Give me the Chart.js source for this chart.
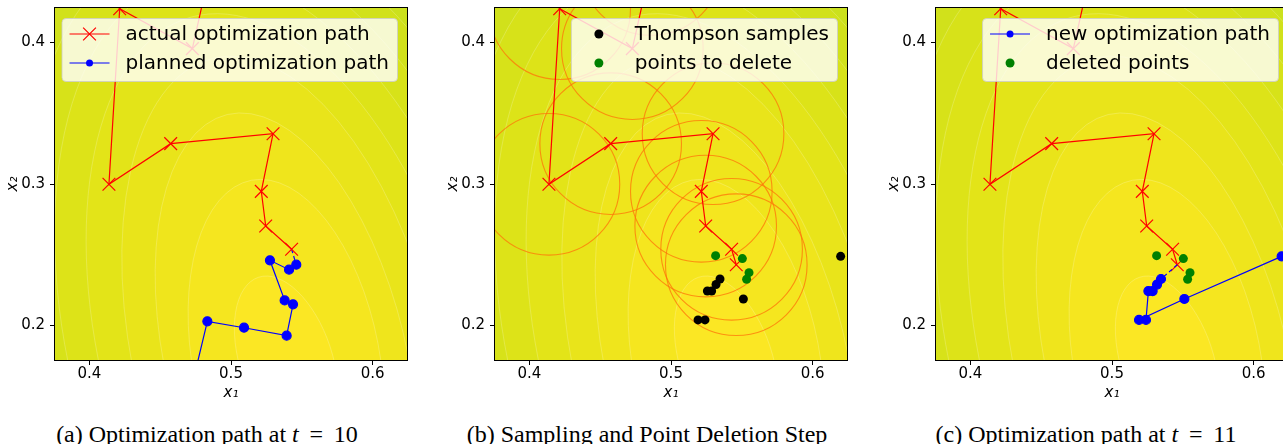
<!DOCTYPE html>
<html>
<head>
<meta charset="utf-8">
<script src="https://cdn.jsdelivr.net/npm/chart.js@4.4.0/dist/chart.umd.min.js"></script>
<style>
  html, body { margin: 0; padding: 0; background: #fff; }
  body { width: 1283px; height: 444px; overflow: hidden; position: relative; }
  canvas { position: absolute; top: 0; }
  .cap { position: absolute; top: 422px; width: 440px; text-align: center;
         font-family: 'Liberation Serif', 'Times New Roman', serif; font-size: 24px; line-height: 24px; color: #000; white-space: nowrap; }
  .eq { margin: 0 0.45em; }
</style>
</head>
<body>
<canvas id="chartA" width="430" height="405" style="left:0px"></canvas>
<canvas id="chartB" width="430" height="405" style="left:440px"></canvas>
<canvas id="chartC" width="430" height="405" style="left:881px"></canvas>
<div class="cap" style="left:-13px">(a) Optimization path at <i>t</i><span class="eq">=</span>10</div>
<div class="cap" style="left:427px">(b) Sampling and Point Deletion Step</div>
<div class="cap" style="left:866px">(c) Optimization path at <i>t</i><span class="eq">=</span>11</div>
<script>
// axes
const xRange = [0.375, 0.625];
const yRange = [0.175, 0.425];
const xTicks = [0.4, 0.5, 0.6];
const yTicks = [0.2, 0.3, 0.4];

// actual optimization path (first point sits above the plot)
const actualX = [0.486, 0.4727, 0.4214, 0.4138, 0.4574, 0.5297, 0.5214, 0.5245, 0.5428];
const actualY = [0.455, 0.3956, 0.4238, 0.2998, 0.3285, 0.3355, 0.2948, 0.2703, 0.2539];
// next step taken at t = 11
const stepX = 0.5461;
const stepY = 0.2430;

// planned path at t = 10 (starts at the next step)
const plannedX = [0.5461, 0.5410, 0.5275, 0.5379, 0.5438, 0.5393, 0.5092, 0.4833, 0.4730];
const plannedY = [0.2430, 0.2395, 0.2461, 0.2178, 0.2150, 0.1929, 0.1985, 0.2030, 0.1600];

// Thompson samples, in the order of the new path
const sampleX = [0.5346, 0.5318, 0.5287, 0.5257, 0.5240, 0.5191, 0.5511, 0.6198];
const sampleY = [0.2329, 0.2290, 0.2244, 0.2244, 0.2040, 0.2040, 0.2188, 0.2489];
// new path leaves the picture on the right
const newTailX = [0.660];
const newTailY = [0.2665];

// points to delete
const delX = [0.5315, 0.5504, 0.5551, 0.5534];
const delY = [0.2494, 0.2473, 0.2374, 0.2327];

// radius of the circles round the path points (x units)
const circleR = 0.05;

// background contours: leaning ellipses round one centre, inner to outer
const contourCx = 0.539;
const contourCy = 0.175;
const contourA = [0.0326, 0.066, 0.085, 0.107, 0.129, 0.150, 0.170, 0.190, 0.210, 0.230, 0.250, 0.270];
const contourB = [0.0623, 0.130, 0.179, 0.220, 0.252, 0.280, 0.306, 0.330, 0.352, 0.373, 0.393, 0.412];
const contourTilt = [0.32, 0.19, 0.235, 0.237, 0.27, 0.28, 0.29, 0.30, 0.30, 0.30, 0.30, 0.30];
const bandColors = ['#fbe724', '#f5e61f', '#efe51c', '#e9e41a', '#e3e418', '#dde318', '#d7e219', '#d1e11b',
                    '#cbe11d', '#c5e020', '#bfdf24', '#b9de28', '#b3de2c'];

const legendA = ['actual optimization path', 'planned optimization path'];
const legendB = ['Thompson samples', 'points to delete'];
const legendC = ['new optimization path', 'deleted points'];

const pts = (xs, ys) => xs.map((x, i) => ({ x: x, y: ys[i] }));

const contourPlugin = {
    id: 'contours',
    beforeDatasetsDraw(chart) {
        const { ctx, chartArea: a, scales: { x, y } } = chart;
        const px = x.getPixelForValue(contourCx), py = y.getPixelForValue(contourCy);
        ctx.save();
        ctx.beginPath();
        ctx.rect(a.left, a.top, a.right - a.left, a.bottom - a.top);
        ctx.clip();
        ctx.fillStyle = bandColors[bandColors.length - 1];
        ctx.fillRect(a.left, a.top, a.right - a.left, a.bottom - a.top);
        for (let i = contourA.length - 1; i >= 0; i--) {
            const rx = Math.abs(x.getPixelForValue(contourCx + contourA[i]) - px);
            const ry = Math.abs(y.getPixelForValue(contourCy + contourB[i]) - py);
            ctx.beginPath();
            ctx.ellipse(px, py, rx, ry, -contourTilt[i], 0, Math.PI * 2);
            ctx.fillStyle = bandColors[i];
            ctx.fill();
            ctx.strokeStyle = 'rgba(255,255,255,0.35)';
            ctx.lineWidth = 0.6;
            ctx.stroke();
        }
        ctx.restore();
    },
    afterDatasetsDraw(chart) {
        const { ctx, chartArea: a } = chart;
        ctx.save();
        ctx.strokeStyle = '#000';
        ctx.lineWidth = 1;
        ctx.strokeRect(Math.round(a.left) + 0.5, Math.round(a.top) + 0.5, Math.round(a.right - a.left) - 1, Math.round(a.bottom - a.top) - 1);
        ctx.restore();
    }
};

// legend inside the plot, drawn last so it veils the lines under it
const boxLegend = {
    id: 'boxLegend',
    afterDraw(chart, args, opts) {
        const items = opts.items;
        if (!items) return;
        const { ctx, chartArea: a } = chart;
        ctx.save();
        ctx.font = '20px "DejaVu Sans"';
        const maxW = Math.max(...items.map(it => ctx.measureText(it.label).width));
        const right = a.left + 343, top = a.top + 11, h = 63;
        const left = right - (8 + 40 + 16 + maxW + 8);
        ctx.beginPath();
        ctx.roundRect(left + 0.5, top + 0.5, right - left, h, 4);
        ctx.fillStyle = 'rgba(255,255,255,0.8)';
        ctx.fill();
        ctx.strokeStyle = 'rgba(204,204,204,0.8)';
        ctx.lineWidth = 1;
        ctx.stroke();
        items.forEach((it, i) => {
            const base = top + 22 + i * 29;
            const my = base - 6;
            const hx = left + 8;
            const mx = hx + 20;
            ctx.strokeStyle = it.color;
            ctx.fillStyle = it.color;
            ctx.lineWidth = 1.2;
            if (it.kind !== 'dot') {
                ctx.beginPath();
                ctx.moveTo(hx, my);
                ctx.lineTo(hx + 40, my);
                ctx.stroke();
            }
            if (it.kind === 'xline') {
                const d = 6.4;
                ctx.beginPath();
                ctx.moveTo(mx - d, my - d); ctx.lineTo(mx + d, my + d);
                ctx.moveTo(mx - d, my + d); ctx.lineTo(mx + d, my - d);
                ctx.stroke();
            } else {
                ctx.beginPath();
                ctx.arc(mx, my, it.kind === 'dot' ? 4.5 : 3.5, 0, Math.PI * 2);
                ctx.fill();
            }
            ctx.fillStyle = '#000';
            ctx.textBaseline = 'alphabetic';
            ctx.fillText(it.label, hx + 56, base);
        });
        ctx.restore();
    }
};

function axis(isX) {
    const vals = isX ? xTicks : yTicks;
    const range = isX ? xRange : yRange;
    return {
        type: 'linear',
        position: isX ? 'bottom' : 'left',
        min: range[0],
        max: range[1],
        afterBuildTicks: s => { s.ticks = vals.map(v => ({ value: v })); },
        afterFit: s => {
            if (isX) s.height = 44; else s.width = 54;
            s.paddingTop = 0; s.paddingBottom = 0; s.paddingLeft = 0; s.paddingRight = 0;
        },
        ticks: {
            color: '#000',
            font: { family: 'DejaVu Sans', size: 15 },
            padding: isX ? 0 : 5,
            maxRotation: 0,
            autoSkip: false,
            callback: v => v.toFixed(1)
        },
        grid: { display: true, drawOnChartArea: false, drawTicks: true, tickLength: 4, tickColor: '#000', tickWidth: 1 },
        border: { display: false },
        title: {
            display: true,
            text: isX ? 'x₁' : 'x₂',
            color: '#000',
            font: { family: 'DejaVu Sans', size: 15, style: 'italic' },
            padding: isX ? { top: 0, bottom: 3 } : { top: 4, bottom: 0 }
        }
    };
}

function makeChart(id, datasets, legendItems) {
    return new Chart(document.getElementById(id).getContext('2d'), {
        type: 'scatter',
        data: { datasets: datasets },
        options: {
            responsive: false,
            devicePixelRatio: 1,
            animation: false,
            events: [],
            layout: { autoPadding: false, padding: { top: 7, right: 22, bottom: 0, left: 0 } },
            scales: { x: axis(true), y: axis(false) },
            plugins: {
                legend: { display: false },
                tooltip: { enabled: false },
                boxLegend: { items: legendItems }
            }
        },
        plugins: [contourPlugin, boxLegend]
    });
}

function pathSet(data, color, style, radius, order) {
    return {
        data: data,
        showLine: true,
        borderColor: color,
        backgroundColor: color,
        borderWidth: 1.2,
        pointStyle: style,
        pointRadius: radius,
        pointBorderColor: color,
        pointBackgroundColor: color,
        pointBorderWidth: 1.2,
        clip: 0,
        order: order
    };
}

function dashSet(data, order) {
    return { data: data, showLine: true, borderColor: '#0000ff', borderWidth: 1.2, borderDash: [4, 3], pointRadius: 0, clip: 0, order: order };
}

function dotSet(data, color, order) {
    return { data: data, showLine: false, pointRadius: 4.5, pointBackgroundColor: color, pointBorderColor: color, pointBorderWidth: 0, clip: 0, order: order };
}

const actual10 = pts(actualX, actualY);
const actual11 = actual10.concat([{ x: stepX, y: stepY }]);

// (a)
makeChart('chartA', [
    pathSet(actual10, '#ff0000', 'crossRot', 9, 1),
    dashSet([actual10[actual10.length - 1], { x: plannedX[0], y: plannedY[0] }], 2),
    pathSet(pts(plannedX, plannedY), '#0000ff', 'circle', 4.5, 3)
], [
    { label: legendA[0], kind: 'xline', color: '#ff0000' },
    { label: legendA[1], kind: 'dotline', color: '#0000ff' }
]);

// (b)
makeChart('chartB', [
    dotSet(pts(sampleX, sampleY), '#000000', 1),
    dotSet(pts(delX, delY), '#008000', 2),
    pathSet(actual11, '#ff0000', 'crossRot', 9, 3),
    {
        data: actual11,
        showLine: false,
        pointRadius: c => {
            const s = c.chart.scales.x;
            return Math.abs(s.getPixelForValue(circleR) - s.getPixelForValue(0));
        },
        pointBackgroundColor: 'rgba(0,0,0,0)',
        pointBorderColor: 'rgba(255,115,10,0.75)',
        pointBorderWidth: 1.1,
        clip: 0,
        order: 4
    }
], [
    { label: legendB[0], kind: 'dot', color: '#000000' },
    { label: legendB[1], kind: 'dot', color: '#008000' }
]);

// (c)
makeChart('chartC', [
    dotSet(pts(delX, delY), '#008000', 1),
    pathSet(pts(sampleX.concat(newTailX), sampleY.concat(newTailY)), '#0000ff', 'circle', 4.5, 2),
    dashSet([{ x: stepX, y: stepY }, { x: sampleX[0], y: sampleY[0] }], 3),
    pathSet(actual11, '#ff0000', 'crossRot', 9, 4)
], [
    { label: legendC[0], kind: 'dotline', color: '#0000ff' },
    { label: legendC[1], kind: 'dot', color: '#008000' }
]);
</script>
</body>
</html>
